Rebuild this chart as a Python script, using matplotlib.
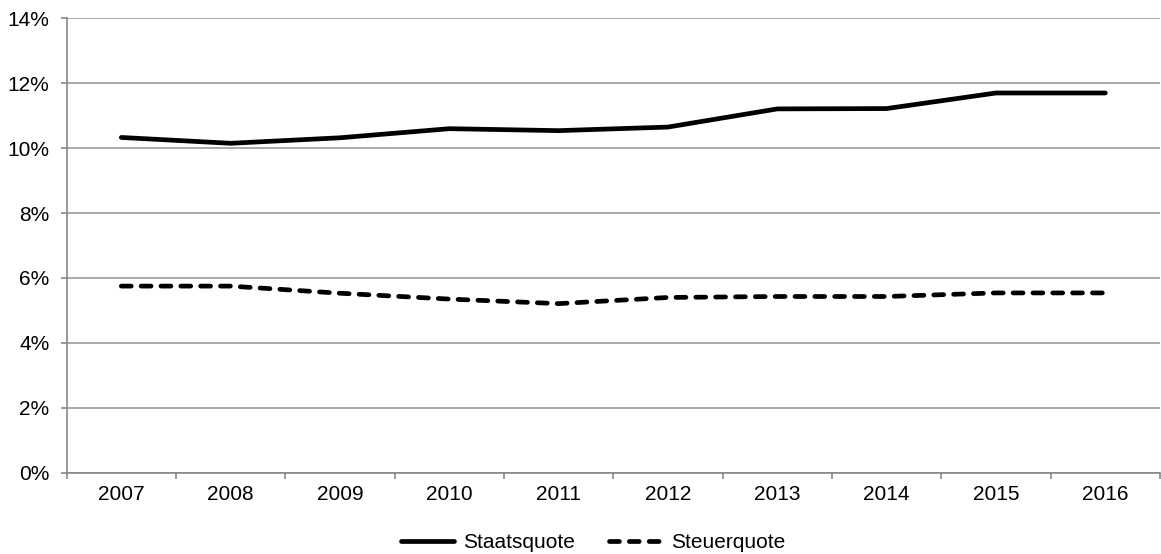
import matplotlib
matplotlib.use("Agg")
import matplotlib.pyplot as plt
from matplotlib.ticker import FixedLocator, PercentFormatter, NullFormatter

plt.rcParams['font.family'] = ['Liberation Sans', 'DejaVu Sans']

years = ["2007", "2008", "2009", "2010", "2011", "2012", "2013", "2014", "2015", "2016"]
staatsquote = [10.33, 10.15, 10.32, 10.60, 10.54, 10.65, 11.21, 11.22, 11.70, 11.70]
steuerquote = [5.75, 5.75, 5.53, 5.35, 5.21, 5.40, 5.43, 5.43, 5.54, 5.54]

fig = plt.figure(figsize=(11.61, 5.54), dpi=100)
ax = fig.add_axes([0.0574, 0.1467, 0.9417, 0.8202])

x = range(len(years))
ax.plot(x, staatsquote, color="black", lw=3.4, solid_capstyle="round",
        solid_joinstyle="round", label="Staatsquote")
ax.plot(x, steuerquote, color="black", lw=3.4, linestyle=(0, (2.1, 2.1)),
        dash_capstyle="round", label="Steuerquote")

ax.set_xlim(-0.5, len(years) - 0.5)
ax.set_ylim(0, 14)
ax.set_yticks(range(0, 15, 2))
ax.yaxis.set_major_formatter(PercentFormatter(decimals=0))
ax.grid(axis="y", color="#999999", lw=1.2)
ax.set_axisbelow(True)

# ticks between categories, labels centered on categories
ax.xaxis.set_major_locator(FixedLocator([i - 0.5 for i in range(len(years) + 1)]))
ax.xaxis.set_major_formatter(NullFormatter())
ax.xaxis.set_minor_locator(FixedLocator(list(x)))
ax.set_xticklabels(years, minor=True)
ax.tick_params(axis="x", which="major", length=4.3, color="#888888", width=1.2)
ax.tick_params(axis="x", which="minor", length=0, pad=9, labelsize=15)
ax.tick_params(axis="y", length=4.3, color="#888888", width=1.2, labelsize=15, pad=8)

for side in ["top", "right"]:
    ax.spines[side].set_visible(False)
for side in ["left", "bottom"]:
    ax.spines[side].set_color("#888888")
    ax.spines[side].set_linewidth(1.2)

fig.legend(loc="center", bbox_to_anchor=(0.511, 0.02), ncol=2, frameon=False,
           fontsize=15, handlelength=2.55, handletextpad=0.45, columnspacing=1.6)

fig.savefig("out.png", dpi=100)
